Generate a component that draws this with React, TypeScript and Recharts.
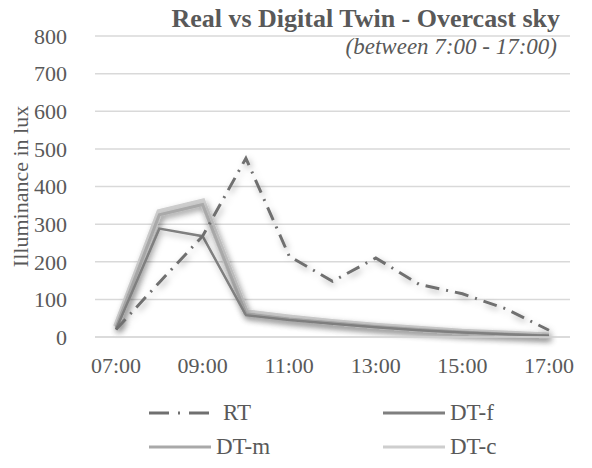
import React from 'react';
import { LineChart, Line, XAxis, YAxis, CartesianGrid, Legend, Label } from 'recharts';

const hours = ['07:00', '08:00', '09:00', '10:00', '11:00', '12:00', '13:00', '14:00', '15:00', '16:00', '17:00'];
const rt = [20, 145, 268, 475, 215, 148, 210, 140, 115, 75, 18];
const dtF = [20, 288, 268, 58, 45, 35, 26, 18, 12, 7, 3];
const dtM = [25, 325, 352, 62, 48, 38, 28, 20, 13, 8, 3];
const dtC = [28, 332, 360, 66, 52, 40, 30, 22, 14, 9, 4];
const yTicks = [0, 100, 200, 300, 400, 500, 600, 700, 800];

const data = hours.map((h, i) => ({ hour: h, RT: rt[i], 'DT-f': dtF[i], 'DT-m': dtM[i], 'DT-c': dtC[i] }));

const font = '"Liberation Serif", "Times New Roman", serif';
const textColor = '#595959';

const LegendBox = (props: any) => {
  const items = props.payload || [];
  const cells = [
    { x: 149, y: 413 },
    { x: 383, y: 413 },
    { x: 149, y: 447 },
    { x: 383, y: 447 },
  ];
  return (
    <div style={{ position: 'relative', width: 592, height: 70 }}>
      {items.map((it: any, i: number) => {
        const c = cells[i];
        return (
          <div key={it.value} style={{ position: 'absolute', left: c.x, top: c.y - 398 - 14, display: 'flex', alignItems: 'center', height: 28 }}>
            <svg width={62} height={10}>
              <line x1={0} y1={5} x2={62} y2={5} stroke={it.color} strokeWidth={3}
                strokeDasharray={it.value === 'RT' ? '20 9 2 9 20' : undefined} />
            </svg>
            <span style={{ marginLeft: it.value === 'RT' ? 12 : 5, fontFamily: font, fontSize: 23, color: textColor }}>{it.value}</span>
          </div>
        );
      })}
    </div>
  );
};

const App = () => {
  return (
    <div style={{ position: 'absolute', left: 0, top: 0, width: 592, height: 468, background: '#fff' }}>
      <div style={{ position: 'absolute', right: 32, top: 7, lineHeight: '24px', fontFamily: font, fontWeight: 'bold', fontSize: 26, color: textColor, whiteSpace: 'nowrap' }}>
        Real vs Digital Twin - Overcast sky
      </div>
      <div style={{ position: 'absolute', right: 35, top: 37, lineHeight: '20px', fontFamily: font, fontStyle: 'italic', fontSize: 23, color: textColor, whiteSpace: 'nowrap' }}>
        (between 7:00 - 17:00)
      </div>
      <LineChart width={592} height={468} data={data} margin={{ top: 36, right: 22, bottom: 31, left: 0 }}>
        <defs>
          <filter id="shadow" x="-10%" y="-10%" width="130%" height="130%">
            <feDropShadow dx="2" dy="3" stdDeviation="3" floodColor="#000" floodOpacity="0.3" />
          </filter>
        </defs>
        <CartesianGrid vertical={false} stroke="#d9d9d9" strokeWidth={1.5} />
        <XAxis dataKey="hour" interval={1} padding={{ left: 21, right: 21 }} tickLine={false}
          axisLine={{ stroke: '#d9d9d9', strokeWidth: 1.5 }} tickMargin={14} height={30}
          tick={{ fill: textColor, fontFamily: font, fontSize: 22 }} />
        <YAxis width={95} domain={[0, 800]} ticks={yTicks} axisLine={false} tickLine={false} tickMargin={22}
          tick={{ fill: textColor, fontFamily: font, fontSize: 22 }}>
          <Label value="Illuminance in lux" angle={-90} position="center" dx={-27}
            style={{ fill: textColor, fontFamily: font, fontSize: 22 }} />
        </YAxis>
        <Line dataKey="DT-c" stroke="#cecece" strokeWidth={6} dot={false} isAnimationActive={false} style={{ filter: 'url(#shadow)' }} />
        <Line dataKey="DT-m" stroke="#a9a9a9" strokeWidth={3} dot={false} isAnimationActive={false} style={{ filter: 'url(#shadow)' }} />
        <Line dataKey="DT-f" stroke="#7f7f7f" strokeWidth={2.5} dot={false} isAnimationActive={false} style={{ filter: 'url(#shadow)' }} />
        <Line dataKey="RT" stroke="#707070" strokeWidth={3} strokeDasharray="14 7 2 7" dot={false} isAnimationActive={false} style={{ filter: 'url(#shadow)' }} />
        <Legend wrapperStyle={{ position: 'absolute', left: 0, top: 398, width: 592, height: 70 }}
          content={(p: any) => {
            const order = ['RT', 'DT-f', 'DT-m', 'DT-c'];
            const payload = order.map((k) => (p.payload || []).find((e: any) => e.value === k)).filter(Boolean);
            return <LegendBox payload={payload} />;
          }} />
      </LineChart>
    </div>
  );
};

export default App;
